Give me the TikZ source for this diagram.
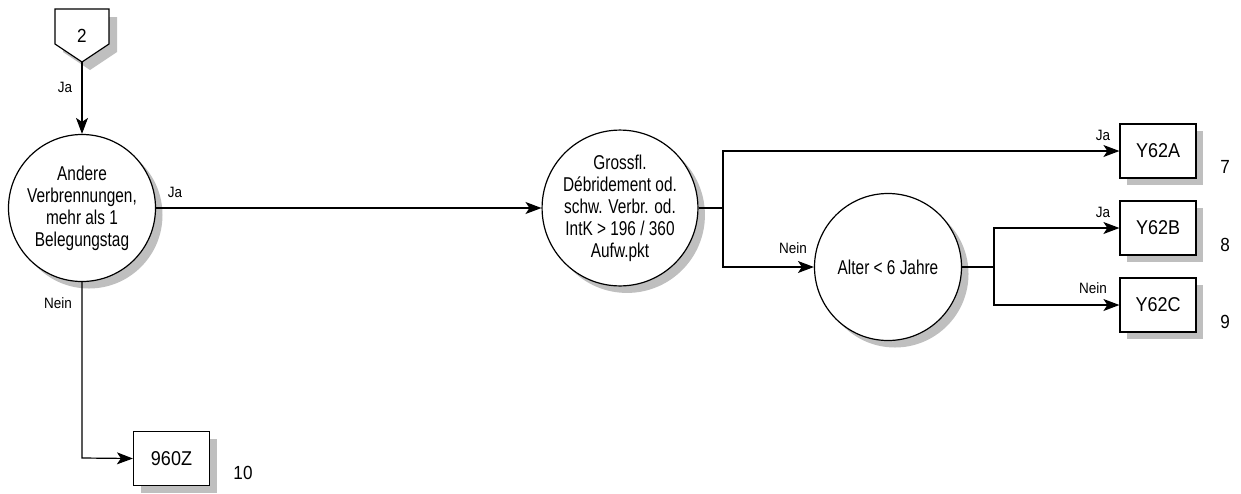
\documentclass[tikz,border=0pt]{standalone}
\usepackage{fontspec}
\setmainfont{Liberation Sans}
\newfontfamily\circfont[FakeStretch=0.77]{Liberation Sans}
\newfontfamily\boxfont[FakeStretch=0.9]{Liberation Sans}
\usetikzlibrary{arrows.meta,shadows}
\tikzset{
  conn/.style={line width=1.2pt},
  arr/.style={conn,-{Stealth[length=16pt,width=12pt,inset=4pt]}},
  shad/.style={drop shadow={shadow xshift=7pt,shadow yshift=-7pt,fill=black!25,opacity=1}},
  decision/.style={circle,draw,line width=1.2pt,fill=white,inner sep=0pt,minimum size=147pt,align=center,shad,
     font=\circfont\fontsize{20}{22}\selectfont},
  result/.style={rectangle,draw,line width=1.2pt,fill=white,minimum width=76pt,minimum height=54pt,inner sep=0pt,shad,
     font=\boxfont\fontsize{20}{22}\selectfont},
  lbl/.style={inner sep=0pt,font=\boxfont\fontsize{15}{17}\selectfont},
  num/.style={inner sep=0pt,font=\boxfont\fontsize{19}{21}\selectfont},
}
\begin{document}
\begin{tikzpicture}[x=1pt,y=-1pt]
\useasboundingbox (0,0) rectangle (1241,493);
% off-page connector
\fill[black!25] (63,17) -- (117,17) -- (117,52) -- (90,70) -- (63,52) -- cycle;
\draw[line width=1.2pt,fill=white] (55,9) -- (109,9) -- (109,44) -- (82,62) -- (55,44) -- cycle;
\node[inner sep=0pt,font=\boxfont\fontsize{19}{21}\selectfont] (p2) at (82,36) {2};
\coordinate (tip) at (82,62);
% decisions
\node[decision] (c1) at (82,208) {Andere\\Verbrennungen,\\mehr als 1\\Belegungstag};
\node[decision] (c2) at (620,208) {Grossfl.\\Débridement od.\\schw. Verbr. od.\\IntK > 196 / 360\\Aufw.pkt};
\node[decision] (c3) at (888,267) {Alter < 6 Jahre};
% results
\node[result] (ya) at (1158,151) {Y62A};
\node[result] (yb) at (1158,228) {Y62B};
\node[result] (yc) at (1158,305) {Y62C};
\node[result] (z) at (171.5,458.5) {960Z};
% numbers
\node[num] (n7) at (1225,167) {7};
\node[num] (n8) at (1225,245) {8};
\node[num] (n9) at (1225,322) {9};
\node[num] (n10) at (243,473) {10};
% connectors
\coordinate (s1) at (723,208);
\coordinate (s2) at (994,267);
\coordinate (b1) at (82,458);
\draw[arr] (tip) -- (c1.north);
\draw[arr] (c1.east) -- (c2.west);
\draw[arr] (c1.south) -- (b1) -- (z.west);
\draw[conn] (c2.east) -- (s1);
\draw[arr] (s1) |- (ya.west);
\draw[arr] (s1) |- (c3.west);
\draw[conn] (c3.east) -- (s2);
\draw[arr] (s2) |- (yb.west);
\draw[arr] (s2) |- (yc.west);
% labels
\node[lbl] (l1) at (65,87) {Ja};
\node[lbl] (l2) at (175,192) {Ja};
\node[lbl] (l3) at (58,303) {Nein};
\node[lbl] (l4) at (1103,135) {Ja};
\node[lbl] (l5) at (1103,212) {Ja};
\node[lbl] (l6) at (1093,288) {Nein};
\node[lbl] (l7) at (793,248) {Nein};
\end{tikzpicture}
\end{document}
